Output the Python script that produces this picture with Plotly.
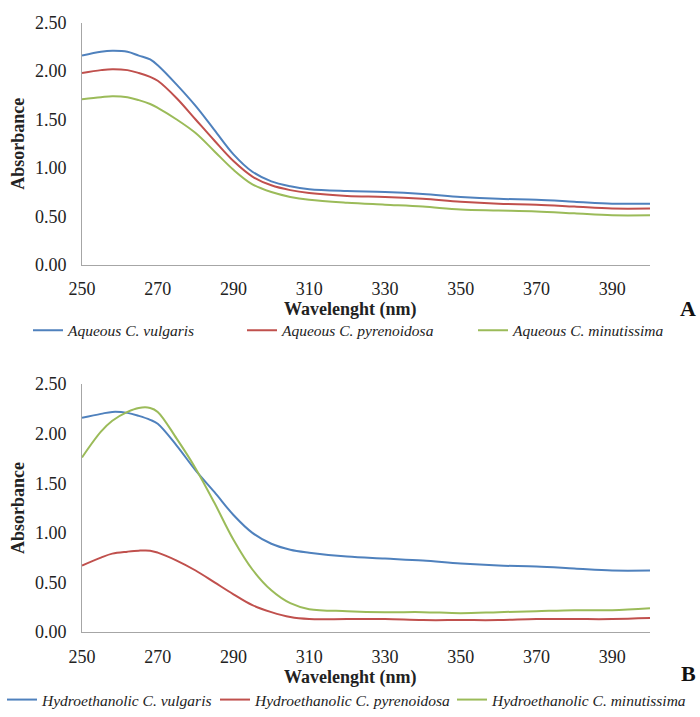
import plotly.graph_objects as go

wavelength = [250, 255, 258, 262, 265, 268, 270, 275, 280, 285, 290, 295, 300, 305, 310,
              320, 330, 340, 350, 360, 370, 380, 390, 400]

aq_vulgaris = [2.16, 2.20, 2.21, 2.20, 2.16, 2.12, 2.06, 1.86, 1.64, 1.39, 1.14, 0.96, 0.86, 0.81, 0.78,
               0.76, 0.75, 0.73, 0.70, 0.68, 0.67, 0.65, 0.63, 0.63]
aq_pyrenoidosa = [1.98, 2.01, 2.02, 2.01, 1.98, 1.94, 1.90, 1.72, 1.50, 1.28, 1.07, 0.91, 0.82, 0.77, 0.74,
                  0.71, 0.70, 0.68, 0.65, 0.63, 0.62, 0.60, 0.58, 0.58]
aq_minutissima = [1.71, 1.73, 1.74, 1.73, 1.70, 1.66, 1.62, 1.50, 1.36, 1.17, 0.98, 0.83, 0.75, 0.70, 0.67,
                  0.64, 0.62, 0.60, 0.57, 0.56, 0.55, 0.53, 0.51, 0.51]

he_vulgaris = [2.16, 2.20, 2.22, 2.21, 2.18, 2.14, 2.10, 1.88, 1.63, 1.41, 1.18, 1.00, 0.89, 0.83, 0.80,
               0.76, 0.74, 0.72, 0.69, 0.67, 0.66, 0.64, 0.62, 0.62]
he_pyrenoidosa = [0.67, 0.75, 0.79, 0.81, 0.82, 0.82, 0.80, 0.72, 0.62, 0.50, 0.38, 0.27, 0.20, 0.15, 0.13,
                  0.13, 0.13, 0.12, 0.12, 0.12, 0.13, 0.13, 0.13, 0.14]
he_minutissima = [1.76, 2.02, 2.13, 2.22, 2.26, 2.26, 2.22, 1.95, 1.65, 1.30, 0.93, 0.63, 0.42, 0.29, 0.23,
                  0.21, 0.20, 0.20, 0.19, 0.20, 0.21, 0.22, 0.22, 0.24]

x_ticks = [250, 270, 290, 310, 330, 350, 370, 390]
y_ticks = [0, 0.5, 1.0, 1.5, 2.0, 2.5]

colors = ["#4F81BD", "#C0504D", "#9BBB59"]
names_a = ["Aqueous C. vulgaris", "Aqueous C. pyrenoidosa", "Aqueous C. minutissima"]
names_b = ["Hydroethanolic C. vulgaris", "Hydroethanolic C. pyrenoidosa", "Hydroethanolic C. minutissima"]
x_title = "Wavelenght (nm)"
y_title = "Absorbance"

W, H = 700, 717
FONT = "Liberation Serif, Times New Roman, DejaVu Serif, serif"

def px_x(p):
    return p / W

def px_y(p):
    return 1 - p / H

legend_x_a = [28, 242, 473]
legend_x_b = [2, 215, 452]

fig = go.Figure()
legends = {}
k = 1
for ys, nm, c, lx in zip([aq_vulgaris, aq_pyrenoidosa, aq_minutissima], names_a, colors, legend_x_a):
    lname = "legend" if k == 1 else f"legend{k}"
    fig.add_trace(go.Scatter(x=wavelength, y=ys, name=f"<i>{nm}</i>", mode="lines",
                             line=dict(color=c, width=2, shape="spline"),
                             xaxis="x", yaxis="y", legend=lname))
    legends[lname] = (lx, 335)
    k += 1
for ys, nm, c, lx in zip([he_vulgaris, he_pyrenoidosa, he_minutissima], names_b, colors, legend_x_b):
    lname = f"legend{k}"
    fig.add_trace(go.Scatter(x=wavelength, y=ys, name=f"<i>{nm}</i>", mode="lines",
                             line=dict(color=c, width=2, shape="spline"),
                             xaxis="x2", yaxis="y2", legend=lname))
    legends[lname] = (lx, 709)
    k += 1

xdom = [px_x(82), px_x(650)]
axis_common = dict(showgrid=False, zeroline=False, showline=True, linecolor="#A6A6A6", linewidth=1,
                   tickfont=dict(family=FONT, size=18, color="#222"), ticks="", automargin=False)
xcommon = dict(axis_common, range=[250, 400], tickvals=x_ticks, domain=xdom,
               ticklabelstandoff=8)
ycommon = dict(axis_common, range=[0, 2.5], tickvals=y_ticks, tickformat=".2f",
               ticklabelstandoff=11,
               title=dict(text=f"<b>{y_title}</b>", font=dict(family=FONT, size=18, color="#222"), standoff=5))

layout_legends = {}
for lname, (lx, ly) in legends.items():
    layout_legends[lname] = dict(orientation="h", xanchor="left", yanchor="middle",
                                 x=px_x(lx), y=px_y(ly),
                                 font=dict(family=FONT, size=15.5, color="#222"),
                                 bgcolor="rgba(0,0,0,0)", itemwidth=30)

title_font = dict(family=FONT, size=18, color="#222")
fig.update_layout(
    width=W, height=H,
    margin=dict(l=0, r=0, t=0, b=0),
    paper_bgcolor="white", plot_bgcolor="white",
    showlegend=True,
    xaxis=dict(xcommon, anchor="y"),
    yaxis=dict(ycommon, anchor="x", domain=[px_y(268), px_y(23)]),
    xaxis2=dict(xcommon, anchor="y2"),
    yaxis2=dict(ycommon, anchor="x2", domain=[px_y(640), px_y(389)]),
    annotations=[
        dict(text=f"<b>{x_title}</b>", x=px_x(350), y=px_y(313), xref="paper", yref="paper",
             xanchor="center", yanchor="middle", showarrow=False, font=title_font),
        dict(text=f"<b>{x_title}</b>", x=px_x(350), y=px_y(686), xref="paper", yref="paper",
             xanchor="center", yanchor="middle", showarrow=False, font=title_font),
        dict(text="<b>A</b>", x=px_x(688), y=px_y(312), xref="paper", yref="paper",
             xanchor="center", yanchor="middle",
             showarrow=False, font=dict(family=FONT, size=22, color="#111")),
        dict(text="<b>B</b>", x=px_x(688), y=px_y(682), xref="paper", yref="paper",
             xanchor="center", yanchor="middle",
             showarrow=False, font=dict(family=FONT, size=22, color="#111")),
    ],
    **layout_legends,
)

fig.write_html("out.html", config={"displayModeBar": False},
               post_script="document.body.style.margin='0';document.body.style.overflow='hidden';")
